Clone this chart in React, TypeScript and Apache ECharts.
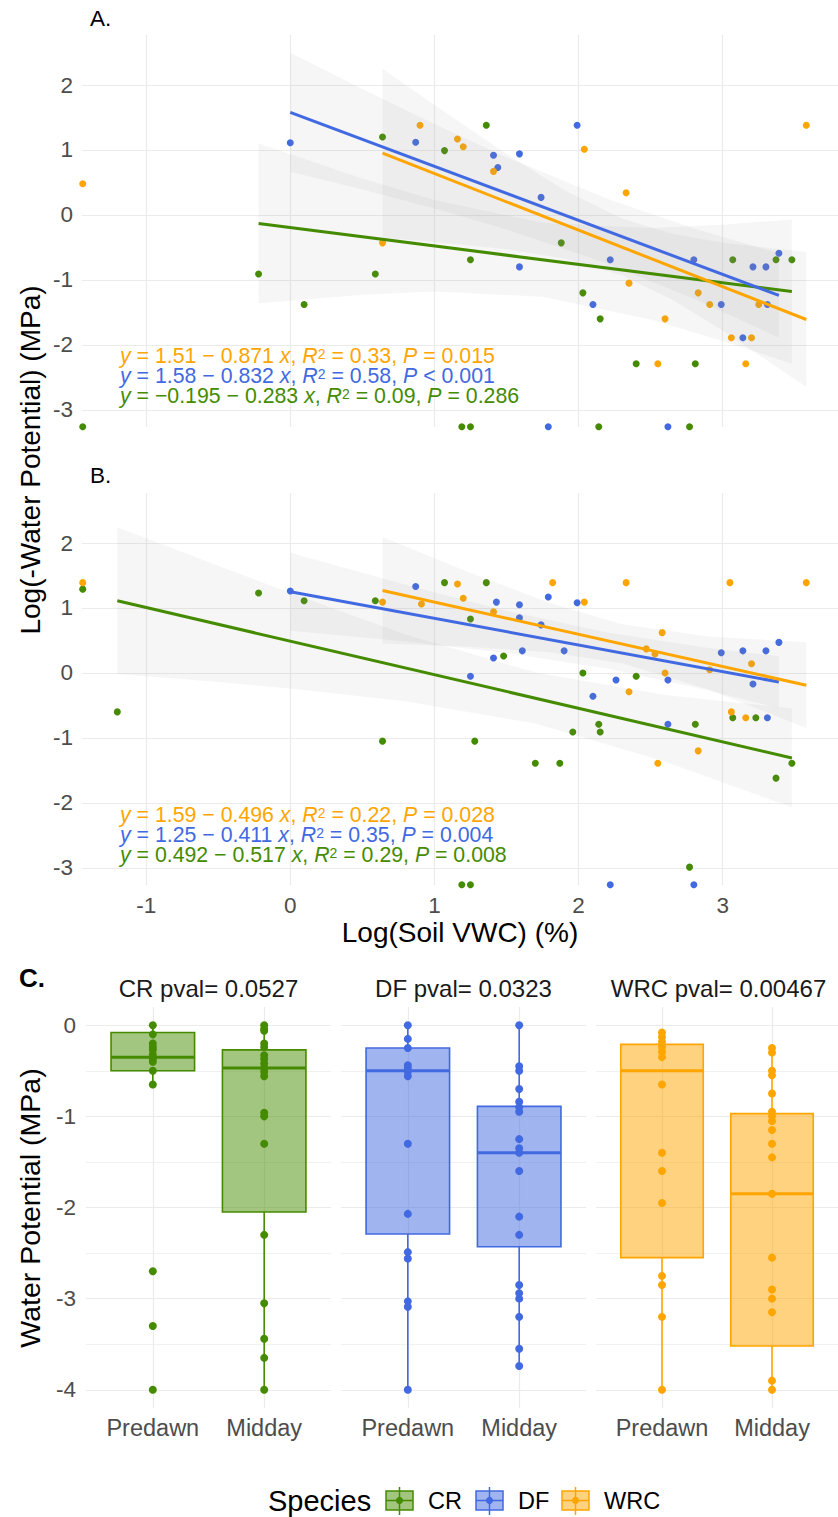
import React, { useEffect, useRef } from 'react';
import * as echarts from 'echarts';

// ---------------- data ----------------
const SPECIES = ['CR', 'DF', 'WRC'];
const COLORS = ['#458B00', '#4169E1', '#FFA500'];
const FILLS = ['rgba(69,139,0,0.5)', 'rgba(65,105,225,0.5)', 'rgba(255,165,0,0.5)'];

const X_TICKS = [-1, 0, 1, 2, 3];
const Y_TICKS = [-3, -2, -1, 0, 1, 2];
const C_Y_TICKS = [0, -1, -2, -3, -4];
const C_Y_MINOR = [-0.5, -1.5, -2.5, -3.5];
const PHASES = ['Predawn', 'Midday'];
const FACET_TITLES = ['CR pval= 0.0527', 'DF pval= 0.0323', 'WRC pval= 0.00467'];

// Panel A: log soil VWC vs log(-water potential), predawn
const A_CR = [[-0.22, -0.91], [0.096, -1.38], [0.59, -0.91], [0.64, 1.2], [1.07, 0.99], [1.36, 1.38], [1.25, -0.69], [1.88, -0.43], [2.03, -1.2], [2.15, -1.6], [2.4, -2.29], [2.81, -2.29], [3.07, -0.69], [3.37, -0.69], [3.48, -0.69], [-1.44, -3.26], [1.19, -3.26], [1.25, -3.26], [2.14, -3.26], [2.77, -3.26]];
const A_DF = [[0, 1.11], [0.87, 1.12], [1.41, 0.92], [1.44, 0.73], [1.59, 0.94], [1.74, 0.27], [1.99, 1.38], [1.59, -0.8], [2.1, -1.38], [2.22, -0.69], [2.8, -0.69], [2.99, -1.38], [3.14, -1.89], [3.21, -0.8], [3.3, -0.8], [3.31, -1.38], [3.39, -0.59], [1.79, -3.26], [2.62, -3.26]];
const A_WRC = [[-1.44, 0.48], [0.64, -0.43], [0.9, 1.38], [1.16, 1.17], [1.2, 1.05], [1.41, 0.67], [2.04, 1.01], [2.33, 0.34], [2.35, -1.05], [2.55, -2.29], [2.6, -1.6], [2.83, -1.2], [2.91, -1.38], [3.06, -1.89], [3.16, -2.29], [3.2, -1.89], [3.25, -1.38], [3.58, 1.38]];

// Panel B: midday
const B_CR = [[-1.44, 1.29], [-1.2, -0.6], [-0.22, 1.23], [0.096, 1.11], [0.59, 1.11], [0.64, -1.05], [1.07, 1.39], [1.36, 1.39], [1.25, 0.83], [1.28, -1.05], [1.48, 0.26], [1.7, -1.39], [1.87, -1.39], [1.96, -0.91], [2.03, 0.0], [2.14, -0.79], [2.15, -0.91], [2.4, -0.05], [2.77, -2.99], [2.81, -0.79], [3.07, -0.69], [3.23, -0.69], [3.37, -1.62], [3.48, -1.39], [1.19, -3.26], [1.25, -3.26]];
const B_DF = [[0, 1.26], [0.87, 1.33], [1.25, -0.05], [1.41, 0.23], [1.43, 1.09], [1.59, 1.05], [1.59, 0.85], [1.61, 0.34], [1.74, 0.74], [1.79, 1.17], [1.9, 0.34], [1.99, 1.08], [2.1, -0.36], [2.26, -0.11], [2.62, -0.11], [2.62, -0.79], [2.99, 0.31], [3.14, 0.34], [3.21, -0.17], [3.3, 0.34], [3.31, -0.69], [3.39, 0.47], [2.22, -3.26], [2.8, -3.26]];
const B_WRC = [[-1.44, 1.39], [0.64, 1.09], [0.91, 1.06], [1.16, 1.37], [1.2, 1.15], [1.41, 0.94], [1.82, 1.39], [2.04, 1.09], [2.33, 1.39], [2.35, -0.29], [2.47, 0.37], [2.53, 0.29], [2.55, -1.39], [2.58, 0.62], [2.6, 0.0], [2.83, -1.2], [2.91, 0.05], [3.05, 1.39], [3.06, -0.6], [3.16, -0.69], [3.2, 0.14], [3.58, 1.39]];

// fitted lines (end points)
const FIT_A_CR = [[-0.22, -0.133], [3.48, -1.18]];
const FIT_A_DF = [[0, 1.58], [3.39, -1.24]];
const FIT_A_WRC = [[0.64, 0.95], [3.58, -1.61]];
const FIT_B_CR = [[-1.2, 1.11], [3.48, -1.31]];
const FIT_B_DF = [[0, 1.25], [3.39, -0.14]];
const FIT_B_WRC = [[0.64, 1.27], [3.58, -0.19]];

// confidence bands [x, lower, upper]
const BAND_A_CR = [[-0.22, -1.36, 1.1], [0.5, -1.23, 0.56], [1.0, -1.18, 0.23], [1.75, -1.26, -0.12], [2.5, -1.61, -0.2], [3.0, -1.94, -0.15], [3.48, -2.29, -0.07]];
const BAND_A_DF = [[0, 0.665, 2.495], [0.5, 0.39, 1.94], [1.0, 0.1, 1.4], [1.5, -0.225, 0.889], [2.2, -0.75, 0.25], [2.8, -1.29, -0.21], [3.39, -1.89, -0.59]];
const BAND_A_WRC = [[0.64, -0.35, 2.25], [1.0, -0.415, 1.693], [1.5, -0.53, 0.94], [1.9, -0.672, 0.382], [2.3, -0.93, -0.056], [2.65, -1.306, -0.29], [3.0, -1.78, -0.43], [3.58, -2.65, -0.57]];
const BAND_B_CR = [[-1.2, -0.018, 2.242], [-0.5, -0.14, 1.65], [0, -0.24, 1.23], [0.8, -0.435, 0.591], [1.7, -0.78, 0.007], [2.6, -1.365, -0.339], [3.48, -2.067, -0.547]];
const BAND_B_DF = [[0, 0.65, 1.85], [0.8, 0.483, 1.359], [1.5, 0.308, 0.959], [2.2, 0.068, 0.624], [2.9, -0.267, 0.383], [3.39, -0.543, 0.257]];
const BAND_B_WRC = [[0.64, 0.453, 2.093], [1.2, 0.407, 1.583], [1.8, 0.319, 1.075], [2.3, 0.149, 0.749], [2.9, -0.255, 0.559], [3.58, -0.846, 0.474]];

const EQ_A = [
  '{i|y}{n| = 1.51 − 0.871 }{i|x}{n|, }{i|R}{s|2}{n| = 0.33, }{i|P}{n| = 0.015}',
  '{i|y}{n| = 1.58 − 0.832 }{i|x}{n|, }{i|R}{s|2}{n| = 0.58, }{i|P}{n| < 0.001}',
  '{i|y}{n| = −0.195 − 0.283 }{i|x}{n|, }{i|R}{s|2}{n| = 0.09, }{i|P}{n| = 0.286}',
];
const EQ_B = [
  '{i|y}{n| = 1.59 − 0.496 }{i|x}{n|, }{i|R}{s|2}{n| = 0.22, }{i|P}{n| = 0.028}',
  '{i|y}{n| = 1.25 − 0.411 }{i|x}{n|, }{i|R}{s|2}{n| = 0.35, }{i|P}{n| = 0.004}',
  '{i|y}{n| = 0.492 − 0.517 }{i|x}{n|, }{i|R}{s|2}{n| = 0.29, }{i|P}{n| = 0.008}',
];

// Panel C: water potential values per species, predawn / midday
const CR_PRE = [0, -0.1, -0.2, -0.24, -0.27, -0.32, -0.37, -0.4, -0.5, -0.65, -2.7, -3.3, -4.0];
const CR_MID = [0, -0.04, -0.06, -0.2, -0.24, -0.33, -0.37, -0.42, -0.47, -0.51, -0.56, -0.96, -1.0, -1.3, -2.3, -3.05, -3.44, -3.65, -4.0];
const DF_PRE = [0, -0.15, -0.25, -0.44, -0.47, -0.51, -0.56, -1.3, -2.07, -2.49, -2.56, -3.03, -3.09, -4.0];
const DF_MID = [0, -0.45, -0.5, -0.7, -0.84, -0.9, -0.95, -1.25, -1.35, -1.4, -1.6, -2.1, -2.3, -2.85, -2.94, -3.0, -3.2, -3.55, -3.74];
const WRC_PRE = [-0.08, -0.13, -0.18, -0.24, -0.29, -0.35, -0.65, -1.4, -1.6, -1.95, -2.75, -2.85, -3.2, -4.0];
const WRC_MID = [-0.25, -0.3, -0.5, -0.55, -0.75, -0.95, -1.0, -1.05, -1.15, -1.3, -1.45, -1.85, -2.55, -2.9, -3.0, -3.15, -3.9, -4.0];

// box stats [lower whisker, Q1, median, Q3, upper whisker]
const CR_BOX_PRE = [-0.65, -0.5, -0.35, -0.08, 0];
const CR_BOX_MID = [-4.0, -2.05, -0.47, -0.27, 0];
const DF_BOX_PRE = [-4.0, -2.29, -0.5, -0.25, 0];
const DF_BOX_MID = [-3.74, -2.43, -1.4, -0.89, 0];
const WRC_BOX_PRE = [-4.0, -2.55, -0.5, -0.21, -0.08];
const WRC_BOX_MID = [-4.0, -3.52, -1.85, -0.97, -0.25];

// ---------------- option ----------------
const FONT = '"Liberation Sans", Arial, Helvetica, sans-serif';
const GRID_COLOR = '#ebebeb';
const TICK_COLOR = '#4d4d4d';
const TICK_SIZE = 22.5;

function scatterX(g: number, labels: boolean) {
  return {
    type: 'value', gridIndex: g, min: -1.445, max: 3.8,
    axisLine: { show: false },
    axisTick: { show: false, customValues: X_TICKS },
    axisLabel: { show: labels, customValues: X_TICKS, fontSize: TICK_SIZE, color: TICK_COLOR, fontFamily: FONT, margin: 9 },
    splitLine: { show: true, lineStyle: { color: GRID_COLOR, width: 1.2 } },
  };
}
function scatterY(g: number) {
  return {
    type: 'value', gridIndex: g, min: -3.265, max: 2.77,
    axisLine: { show: false },
    axisTick: { show: false, customValues: Y_TICKS },
    axisLabel: { show: true, customValues: Y_TICKS, fontSize: TICK_SIZE, color: TICK_COLOR, fontFamily: FONT, margin: 9 },
    splitLine: { show: true, lineStyle: { color: GRID_COLOR, width: 1.2 } },
  };
}
function boxX(g: number) {
  return {
    type: 'value', gridIndex: g, min: 0.4, max: 2.6,
    axisLine: { show: false },
    axisTick: { show: false, customValues: [1, 2] },
    axisLabel: {
      show: true, customValues: [1, 2], fontSize: 23.5, color: TICK_COLOR, fontFamily: FONT, margin: 8,
      formatter: (v: number) => PHASES[Math.round(v) - 1] || '',
    },
    splitLine: { show: true, lineStyle: { color: GRID_COLOR, width: 1.2 } },
  };
}
function boxY(g: number, labels: boolean) {
  return {
    type: 'value', gridIndex: g, min: -4.2, max: 0.2, position: 'left',
    axisLine: { show: false },
    axisTick: { show: false, customValues: C_Y_TICKS },
    axisLabel: { show: labels, customValues: C_Y_TICKS, fontSize: TICK_SIZE, color: TICK_COLOR, fontFamily: FONT, margin: 10 },
    splitLine: { show: true, lineStyle: { color: GRID_COLOR, width: 1.2 } },
  };
}
function boxYMinor(g: number) {
  return {
    type: 'value', gridIndex: g, min: -4.2, max: 0.2, position: 'left',
    axisLine: { show: false },
    axisTick: { show: false, customValues: C_Y_MINOR },
    axisLabel: { show: false, customValues: C_Y_MINOR },
    splitLine: { show: true, lineStyle: { color: GRID_COLOR, width: 0.7 } },
  };
}

function bandSeries(band: number[][], axis: number) {
  return {
    type: 'custom', xAxisIndex: axis, yAxisIndex: axis, z: 3, silent: true,
    data: band.map((b) => [b[0], b[1], b[2]]),
    encode: { x: 0, y: [1, 2] },
    renderItem: (params: any, api: any) => {
      if (params.dataIndex !== 0) return null;
      const up = band.map((b) => api.coord([b[0], b[2]]));
      const lo = band.slice().reverse().map((b) => api.coord([b[0], b[1]]));
      return { type: 'polygon', shape: { points: up.concat(lo) }, style: { fill: 'rgba(150,150,150,0.085)' } };
    },
  };
}

function boxRenderer(color: string, fill: string) {
  return (params: any, api: any) => {
    const x = api.value(0);
    const lo = api.coord([x, api.value(1)]);
    const q1 = api.coord([x, api.value(2)]);
    const md = api.coord([x, api.value(3)]);
    const q3 = api.coord([x, api.value(4)]);
    const hi = api.coord([x, api.value(5)]);
    const left = api.coord([x - 0.375, 0])[0];
    const right = api.coord([x + 0.375, 0])[0];
    return {
      type: 'group',
      children: [
        { type: 'line', shape: { x1: lo[0], y1: lo[1], x2: q1[0], y2: q1[1] }, style: { stroke: color, lineWidth: 1.6 } },
        { type: 'line', shape: { x1: q3[0], y1: q3[1], x2: hi[0], y2: hi[1] }, style: { stroke: color, lineWidth: 1.6 } },
        { type: 'rect', shape: { x: left, y: q3[1], width: right - left, height: q1[1] - q3[1] }, style: { fill, stroke: color, lineWidth: 1.6 } },
        { type: 'line', shape: { x1: left, y1: md[1], x2: right, y2: md[1] }, style: { stroke: color, lineWidth: 3 } },
      ],
    };
  };
}

function richFor(c: string) {
  return {
    n: { fontSize: 21.3, fontFamily: FONT, fill: c, lineHeight: 19 },
    i: { fontSize: 21.3, fontFamily: FONT, fill: c, fontStyle: 'italic', lineHeight: 19 },
    s: { fontSize: 14, fontFamily: FONT, fill: c, lineHeight: 12, verticalAlign: 'top' },
  };
}

function txt(x: number, y: number, text: string, opts: any = {}) {
  const { rotation, ...style } = opts;
  return {
    type: 'text', x, y, rotation: rotation || 0, silent: true, z: 10,
    style: { text, fill: '#000', fontFamily: FONT, fontSize: 22, align: 'left', verticalAlign: 'middle', ...style },
  };
}

function legendKey(x: number, i: number) {
  const cx = x + 13.5;
  return {
    type: 'group', silent: true, z: 10,
    children: [
      { type: 'line', shape: { x1: cx, y1: 1487, x2: cx, y2: 1515 }, style: { stroke: COLORS[i], lineWidth: 1.5 } },
      { type: 'rect', shape: { x, y: 1491, width: 27, height: 19 }, style: { fill: FILLS[i], stroke: COLORS[i], lineWidth: 1.5 } },
      { type: 'line', shape: { x1: x, y1: 1500.5, x2: x + 27, y2: 1500.5 }, style: { stroke: COLORS[i], lineWidth: 1.5 } },
      { type: 'circle', shape: { cx, cy: 1500.5, r: 3.6 }, style: { fill: COLORS[i] } },
    ],
  };
}

function buildOption() {
  const scatterSets = [[A_CR, A_DF, A_WRC], [B_CR, B_DF, B_WRC]];
  const fits = [[FIT_A_CR, FIT_A_DF, FIT_A_WRC], [FIT_B_CR, FIT_B_DF, FIT_B_WRC]];
  const bands = [[BAND_A_CR, BAND_A_DF, BAND_A_WRC], [BAND_B_CR, BAND_B_DF, BAND_B_WRC]];
  const cPoints = [[CR_PRE, CR_MID], [DF_PRE, DF_MID], [WRC_PRE, WRC_MID]];
  const cBoxes = [[CR_BOX_PRE, CR_BOX_MID], [DF_BOX_PRE, DF_BOX_MID], [WRC_BOX_PRE, WRC_BOX_MID]];

  const series: any[] = [];
  for (let p = 0; p < 2; p++) {
    for (let s = 0; s < 3; s++) {
      series.push({
        type: 'scatter', name: SPECIES[s], xAxisIndex: p, yAxisIndex: p, data: scatterSets[p][s],
        symbolSize: 7, itemStyle: { color: COLORS[s], opacity: 1 }, z: 2, silent: true,
      });
    }
    for (let s = 0; s < 3; s++) series.push(bandSeries(bands[p][s], p));
    for (let s = 0; s < 3; s++) {
      series.push({
        type: 'line', name: SPECIES[s], xAxisIndex: p, yAxisIndex: p, data: fits[p][s],
        symbol: 'none', showSymbol: false, lineStyle: { color: COLORS[s], width: 3 }, z: 4, silent: true,
      });
    }
  }
  for (let s = 0; s < 3; s++) {
    series.push({
      type: 'custom', name: SPECIES[s], xAxisIndex: 2 + s, yAxisIndex: 2 + s, silent: true, z: 2,
      data: cBoxes[s].map((b, i) => [i + 1, ...b]),
      encode: { x: 0, y: [1, 2, 3, 4, 5] },
      renderItem: boxRenderer(COLORS[s], FILLS[s]),
    });
    series.push({
      type: 'scatter', name: SPECIES[s], xAxisIndex: 2 + s, yAxisIndex: 2 + s, silent: true, z: 3,
      data: [...cPoints[s][0].map((v) => [1, v]), ...cPoints[s][1].map((v) => [2, v])],
      symbolSize: 8, itemStyle: { color: COLORS[s], opacity: 1 },
    });
  }

  const eqColors = [COLORS[2], COLORS[1], COLORS[0]];
  const eqYA = [356, 376, 396];
  const eqYB = [815, 835, 855];
  const graphic: any[] = [
    txt(90, 18, 'A.', { fontSize: 22.5 }),
    txt(90, 475, 'B.', { fontSize: 22.5 }),
    txt(19, 978, 'C.', { fontSize: 26, fontWeight: 'bold' }),
    txt(30, 460, 'Log(-Water Potential) (MPa)', { fontSize: 28, align: 'center', rotation: Math.PI / 2 }),
    txt(460, 932, 'Log(Soil VWC) (%)', { fontSize: 28, align: 'center' }),
    txt(30, 1208, 'Water Potential (MPa)', { fontSize: 28.5, align: 'center', rotation: Math.PI / 2 }),
    txt(208.5, 988, FACET_TITLES[0], { fontSize: 24, align: 'center', fill: '#1a1a1a' }),
    txt(463.5, 988, FACET_TITLES[1], { fontSize: 24, align: 'center', fill: '#1a1a1a' }),
    txt(718.5, 988, FACET_TITLES[2], { fontSize: 24, align: 'center', fill: '#1a1a1a' }),
    txt(268, 1501, 'Species', { fontSize: 29 }),
    legendKey(386, 0), txt(428, 1501, SPECIES[0], { fontSize: 23.5 }),
    legendKey(476, 1), txt(518, 1501, SPECIES[1], { fontSize: 23.5 }),
    legendKey(562, 2), txt(604, 1501, SPECIES[2], { fontSize: 23.5 }),
  ];
  for (let k = 0; k < 3; k++) {
    graphic.push({ type: 'text', x: 120, y: eqYA[k], silent: true, z: 10, style: { text: EQ_A[k], align: 'left', verticalAlign: 'middle', rich: richFor(eqColors[k]) } });
    graphic.push({ type: 'text', x: 120, y: eqYB[k], silent: true, z: 10, style: { text: EQ_B[k], align: 'left', verticalAlign: 'middle', rich: richFor(eqColors[k]) } });
  }

  return {
    animation: false,
    backgroundColor: '#ffffff',
    textStyle: { fontFamily: FONT },
    grid: [
      { left: 82, top: 35, width: 756, height: 392 },
      { left: 82, top: 493, width: 756, height: 392 },
      { left: 86, top: 1007, width: 245, height: 401 },
      { left: 341, top: 1007, width: 245, height: 401 },
      { left: 596, top: 1007, width: 245, height: 401 },
    ],
    xAxis: [scatterX(0, false), scatterX(1, true), boxX(2), boxX(3), boxX(4)],
    yAxis: [scatterY(0), scatterY(1), boxY(2, true), boxY(3, false), boxY(4, false), boxYMinor(2), boxYMinor(3), boxYMinor(4)],
    series,
    graphic,
  };
}

export default function App() {
  const ref = useRef<HTMLDivElement>(null);
  useEffect(() => {
    if (!ref.current) return;
    const chart = echarts.init(ref.current, undefined, { renderer: 'svg' });
    chart.setOption(buildOption() as any);
    return () => chart.dispose();
  }, []);
  return <div ref={ref} style={{ position: 'absolute', left: 0, top: 0, width: 838, height: 1517, background: '#fff' }} />;
}
